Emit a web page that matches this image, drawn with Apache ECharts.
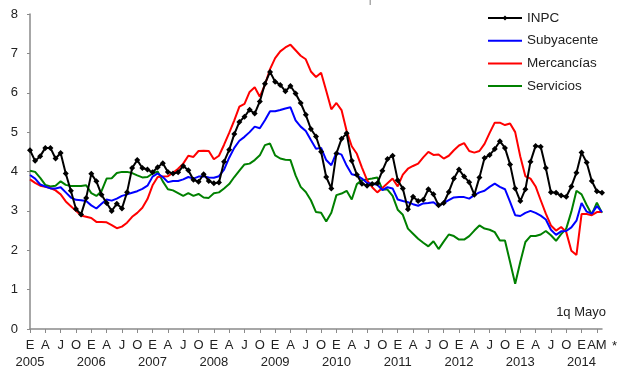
<!DOCTYPE html>
<html><head><meta charset="utf-8">
<script src="https://cdn.jsdelivr.net/npm/echarts@6/dist/echarts.min.js"></script>
<style>html,body{margin:0;padding:0;background:#fff}#c{width:620px;height:366px}</style>
</head><body><div id="c"></div>
<script>
const years = ['2005','2006','2007','2008','2009','2010','2011','2012','2013','2014'];
const quarterLetters = ['E','A','J','O'];
const lastLabel = 'AM';
const noteText = '1q Mayo';

const inpc = [
 4.54,4.27,4.39,4.60,4.60,4.33,4.47,3.95,3.51,3.05,2.91,3.33,
 3.94,3.75,3.41,3.20,3.00,3.18,3.06,3.47,4.09,4.29,4.09,4.05,
 3.98,4.11,4.21,3.99,3.95,3.98,4.14,4.03,3.79,3.74,3.93,3.76,
 3.70,3.72,4.25,4.55,4.95,5.26,5.39,5.57,5.47,5.78,6.23,6.53,
 6.28,6.20,6.04,6.17,5.98,5.74,5.44,5.08,4.89,4.50,3.86,3.57,
 4.46,4.83,4.97,4.27,3.92,3.69,3.64,3.68,3.70,4.02,4.32,4.40,
 3.78,3.57,3.04,3.36,3.25,3.28,3.55,3.42,3.14,3.20,3.48,3.82,
 4.05,3.87,3.73,3.41,3.85,4.34,4.42,4.57,4.77,4.60,4.18,3.57,
 3.25,3.55,4.25,4.65,4.63,4.09,3.47,3.46,3.39,3.36,3.62,3.97,
 4.48,4.23,3.76,3.50,3.46];

const subyacente = [
 3.91,3.82,3.67,3.62,3.57,3.57,3.60,3.47,3.34,3.28,3.27,3.25,
 3.14,3.06,3.18,3.29,3.26,3.31,3.38,3.42,3.46,3.50,3.56,3.64,
 3.87,3.95,3.86,3.73,3.76,3.76,3.80,3.86,3.82,3.87,3.88,3.85,
 3.84,3.88,4.05,4.35,4.60,4.78,4.88,5.00,5.14,5.10,5.30,5.53,
 5.53,5.56,5.60,5.63,5.30,5.14,5.03,4.80,4.58,4.60,4.29,4.16,
 4.48,4.43,4.15,3.93,3.90,3.82,3.71,3.69,3.66,3.53,3.60,3.57,
 3.29,3.25,3.22,3.17,3.13,3.19,3.20,3.22,3.12,3.20,3.27,3.34,
 3.35,3.35,3.31,3.40,3.47,3.51,3.61,3.69,3.61,3.55,3.23,2.89,
 2.87,2.95,3.00,2.95,2.88,2.78,2.52,2.39,2.48,2.49,2.58,2.75,
 3.20,2.98,2.93,3.12,2.97];

const mercancias = [
 3.80,3.71,3.64,3.61,3.58,3.52,3.42,3.24,3.12,3.00,2.88,2.85,
 2.82,2.72,2.72,2.71,2.64,2.56,2.60,2.70,2.85,2.95,3.08,3.30,
 3.65,3.86,3.87,3.88,3.97,4.07,4.20,4.40,4.37,4.52,4.53,4.52,
 4.31,4.40,4.68,4.98,5.30,5.65,5.72,6.02,6.14,5.90,6.20,6.60,
 6.88,7.05,7.15,7.22,7.08,6.94,6.85,6.54,6.40,6.51,6.05,5.58,
 5.74,5.56,5.03,4.64,4.45,4.10,3.78,3.60,3.47,3.58,3.70,3.82,
 3.62,3.92,4.07,4.14,4.20,4.36,4.50,4.42,4.43,4.33,4.40,4.54,
 4.66,4.72,4.52,4.48,4.52,4.70,4.98,5.24,5.24,5.18,5.22,5.00,
 4.38,3.88,3.82,3.62,3.27,2.93,2.63,2.50,2.59,2.46,1.99,1.88,
 2.92,2.92,2.89,2.97,2.97];

const servicios = [
 4.02,3.99,3.84,3.66,3.62,3.64,3.75,3.66,3.63,3.63,3.63,3.65,
 3.45,3.38,3.50,3.82,3.83,3.96,3.99,3.99,3.96,3.90,3.85,3.86,
 3.95,4.00,3.75,3.55,3.52,3.45,3.38,3.45,3.38,3.43,3.34,3.33,
 3.45,3.47,3.57,3.68,3.86,4.02,4.18,4.20,4.29,4.41,4.67,4.71,
 4.41,4.33,4.30,4.29,3.90,3.61,3.48,3.27,2.97,2.95,2.73,2.95,
 3.40,3.44,3.51,3.29,3.68,3.78,3.80,3.82,3.85,3.54,3.54,3.38,
 3.03,2.90,2.55,2.42,2.29,2.19,2.10,2.23,2.03,2.22,2.40,2.36,
 2.27,2.27,2.36,2.50,2.63,2.55,2.52,2.46,2.25,2.25,1.70,1.15,
 1.70,2.21,2.36,2.36,2.40,2.49,2.38,2.24,2.41,2.55,2.98,3.51,
 3.42,3.15,2.91,3.21,2.95];

const n = inpc.length;
const categories = [];
for (let i = 0; i < n; i++) {
  categories.push(years[Math.floor(i / 12)] + '-' + (i % 12 + 1));
}
function showIdx(i) { return i % 3 === 0; }

const FONT = 'Arial, "Liberation Sans", sans-serif';
const chart = echarts.init(document.getElementById('c'), null, {renderer: 'canvas'});
chart.setOption({
  animation: false,
  backgroundColor: '#fff',
  textStyle: {fontFamily: FONT},
  grid: {left: 30, right: 18, top: 14, bottom: 37, containLabel: false, outerBoundsMode: 'none'},
  legend: {
    orient: 'vertical', left: 482, top: 6, itemWidth: 34, itemHeight: 6, itemGap: 8.7,
    textStyle: {fontFamily: FONT, fontSize: 13.5, color: '#222'},
    data: [
      {name: 'INPC'},
      {name: 'Subyacente', itemStyle: {opacity: 0}},
      {name: 'Mercancías', itemStyle: {opacity: 0}},
      {name: 'Servicios', itemStyle: {opacity: 0}}
    ]
  },
  xAxis: [{
    type: 'category', data: categories, boundaryGap: false,
    axisLine: {show: true, lineStyle: {color: '#8a8a8a', width: 1.5}},
    axisTick: {show: true, length: 4, interval: (i) => showIdx(i), lineStyle: {color: '#8a8a8a'}},
    axisLabel: {
      interval: (i) => showIdx(i), showMinLabel: true, showMaxLabel: true,
      margin: 10, fontSize: 13, color: '#222',
      fontFamily: FONT, hideOverlap: false,
      formatter: function (v, i) {
        if (i === n - 2) return lastLabel;
        return quarterLetters[(i % 12) / 3];
      }
    },
    splitLine: {show: false}
  }, {
    type: 'category', data: categories, boundaryGap: false, position: 'bottom',
    axisLine: {show: false}, axisTick: {show: false}, splitLine: {show: false},
    axisLabel: {
      interval: (i) => i % 12 === 0, showMinLabel: true, showMaxLabel: true,
      margin: 27, fontSize: 13, color: '#222', fontFamily: FONT,
      formatter: function (v, i) { return years[Math.floor(i / 12)]; }
    }
  }],
  yAxis: {
    type: 'value', min: 0, max: 8, interval: 1,
    axisLine: {show: true, lineStyle: {color: '#8a8a8a', width: 1.5}},
    axisTick: {show: true, length: 3, lineStyle: {color: '#8a8a8a'}},
    axisLabel: {margin: 12, fontSize: 13, color: '#222', fontFamily: FONT},
    splitLine: {show: false}
  },
  series: [
    {name: 'INPC', type: 'line', data: inpc, symbol: 'diamond', symbolSize: 6, showSymbol: true, showAllSymbol: true,
     lineStyle: {color: '#000', width: 2}, itemStyle: {color: '#000'}, z: 5},
    {name: 'Subyacente', type: 'line', data: subyacente, symbol: 'none',
     lineStyle: {color: '#0000ff', width: 2}, itemStyle: {color: '#0000ff'}, z: 4},
    {name: 'Mercancías', type: 'line', data: mercancias, symbol: 'none',
     lineStyle: {color: '#ff0000', width: 2}, itemStyle: {color: '#ff0000'}, z: 3},
    {name: 'Servicios', type: 'line', data: servicios, symbol: 'none',
     lineStyle: {color: '#008000', width: 2}, itemStyle: {color: '#008000'}, z: 2}
  ],
  graphic: [
    {type: 'text', right: 14, top: 306, style: {text: noteText, font: '13px ' + FONT, fill: '#222'}},
    {type: 'text', left: 612, top: 340, style: {text: '*', font: '13px ' + FONT, fill: '#222'}},
    {type: 'rect', shape: {x: 369.5, y: 0, width: 1.5, height: 5}, style: {fill: '#aaa'}}
  ]
});
</script>
</body></html>
